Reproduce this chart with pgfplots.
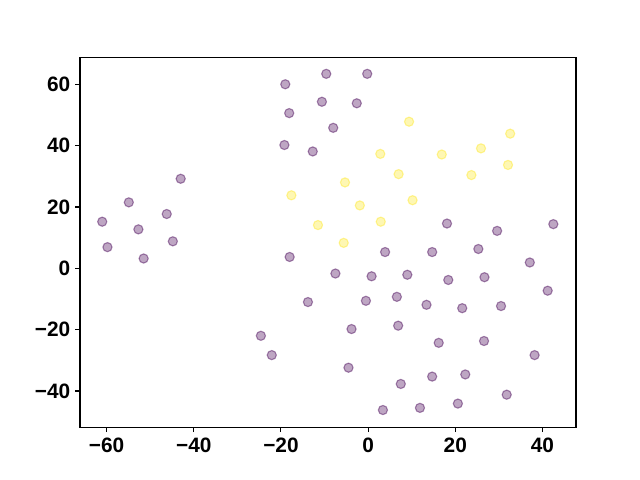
\documentclass[border=0pt]{standalone}
\usepackage{pgfplots}
\pgfplotsset{compat=1.18}
\usepackage{fontspec}
\setmainfont{Liberation Sans}
\definecolor{vpurple}{HTML}{440154}
\definecolor{vyellow}{HTML}{FDE725}
\begin{document}
\begin{tikzpicture}
\path[use as bounding box] (-57.6pt,-38.02pt) rectangle (403.2pt,307.58pt);
\begin{axis}[
  at={(0,0)}, anchor=south west,
  scale only axis, width=357.12pt, height=266.11pt,
  xmin=-66.1, xmax=47.7, ymin=-51.8, ymax=68.7,
  axis line style={line width=0.8pt},
  tick align=outside, major tick length=3.5pt,
  tick style={line width=0.8pt, black},
  xtick={-60,-40,-20,0,20,40},
  xticklabels={−60,−40,−20,0,20,40},
  ytick={-40,-20,0,20,40,60},
  yticklabels={−40,−20,0,20,40,60},
  xtick pos=bottom, ytick pos=left,
  tick label style={font=\fontsize{15}{18}\selectfont\bfseries},
  xticklabel style={yshift=-1pt},
]
\addplot[only marks, mark=*, mark size=3.3pt,
  mark options={draw=vpurple, fill=vpurple, draw opacity=0.45, fill opacity=0.35, line width=0.8pt}]
  table {
x y
-9.6 63.4
-19.0 60.0
-10.6 54.3
-18.1 50.6
-8.0 45.8
-19.2 40.2
-12.7 38.1
-43.0 29.2
-54.9 21.5
-46.2 17.7
-61.0 15.2
-52.7 12.7
-44.8 8.8
-0.2 63.4
-2.6 53.8
18.1 14.6
29.6 12.2
42.5 14.4
-59.8 6.9
-51.5 3.2
-18.0 3.7
-13.8 -11.0
-24.6 -22.0
-22.1 -28.3
3.9 5.3
14.7 5.3
25.3 6.3
37.1 1.9
-7.5 -1.7
0.8 -2.6
9.0 -2.1
18.4 -3.8
26.7 -2.9
41.2 -7.3
-0.5 -10.6
6.6 -9.3
13.4 -11.9
21.6 -13.0
30.5 -12.3
-3.8 -19.8
6.9 -18.7
16.2 -24.3
26.6 -23.7
38.2 -28.3
-4.5 -32.4
7.5 -37.7
14.7 -35.3
22.3 -34.6
31.8 -41.2
3.4 -46.2
11.9 -45.5
20.6 -44.1
};
\addplot[only marks, mark=*, mark size=3.3pt,
  mark options={draw=vyellow, fill=vyellow, draw opacity=0.45, fill opacity=0.35, line width=0.8pt}]
  table {
x y
-17.6 23.8
-11.5 14.1
9.4 47.8
32.6 43.9
2.8 37.3
16.9 37.1
25.9 39.1
32.1 33.7
7.0 30.7
23.7 30.4
-5.3 28.0
-1.9 20.5
10.2 22.2
2.9 15.2
-5.6 8.3
};
\end{axis}
\end{tikzpicture}
\end{document}
